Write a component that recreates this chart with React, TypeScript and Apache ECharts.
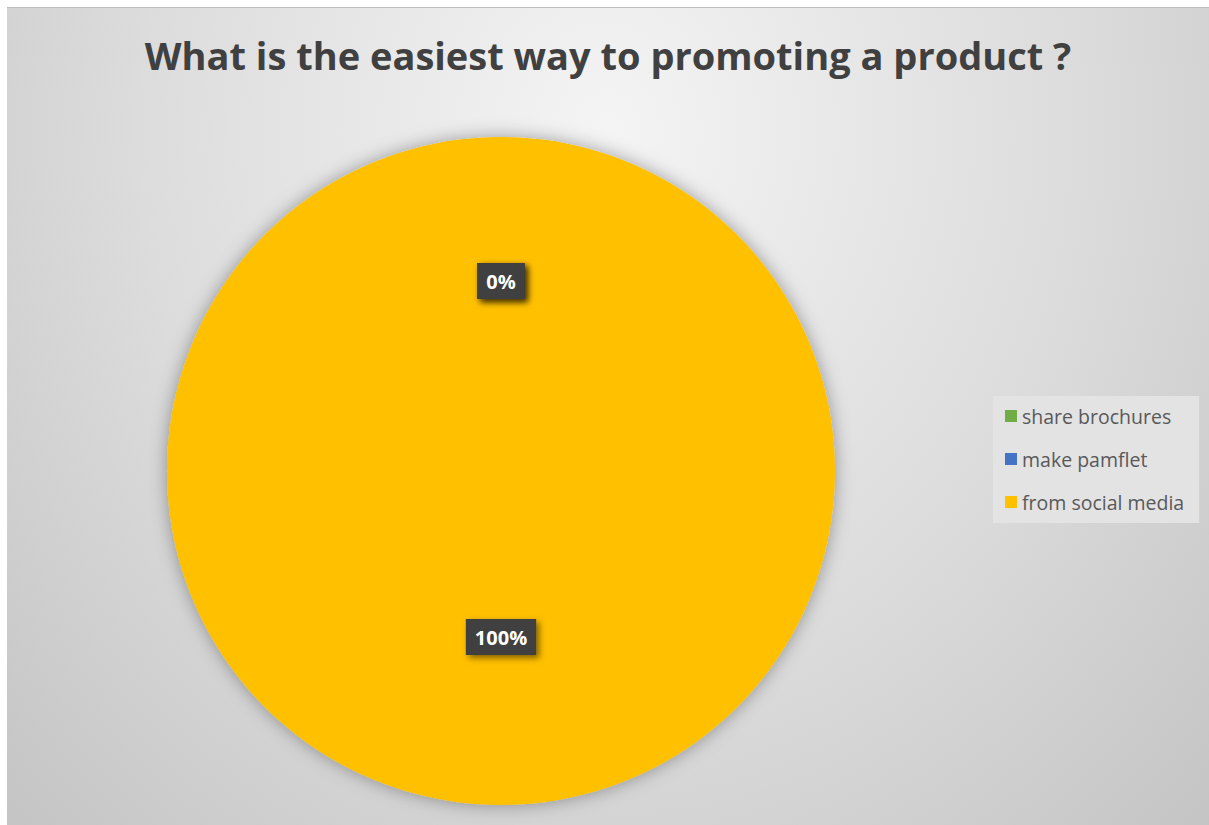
import React, { useEffect, useRef } from "react";
import * as echarts from "echarts";

const categories: string[] = ["share brochures", "make pamflet", "from social media"];
const values: number[] = [0, 0, 100];
const colors: string[] = ["#70AD47", "#4472C4", "#FFC000"];
const titleText = "What is the easiest way to promoting a product ?";

export default function App() {
  const ref = useRef<HTMLDivElement>(null);
  useEffect(() => {
    if (!ref.current) return;
    const chart = echarts.init(ref.current, undefined, { renderer: "svg" });
    const data = categories.map((name, i) => ({
      name,
      value: values[i],
      itemStyle: { color: colors[i] },
    }));
    chart.setOption({
      animation: false,
      backgroundColor: "transparent",
      title: {
        text: titleText,
        left: "center",
        top: 23,
        textStyle: {
          fontFamily: "Open Sans",
          fontWeight: "bold",
          fontSize: 38,
          color: "#404040",
        },
      },
      legend: {
        orient: "vertical",
        left: 986,
        top: 388,
        icon: "rect",
        itemWidth: 12,
        itemHeight: 12,
        itemGap: 23,
        padding: [10, 15, 11, 12],
        backgroundColor: "#e3e3e3",
        data: categories,
        textStyle: {
          fontFamily: "Open Sans",
          fontSize: 19.5,
          lineHeight: 20,
          color: "#595959",
        },
      },
      series: [
        {
          type: "pie",
          center: [494, 463],
          radius: [0, 334],
          startAngle: 90,
          clockwise: true,
          data,
          itemStyle: {
            shadowBlur: 18,
            shadowColor: "rgba(0,0,0,0.35)",
          },
          label: {
            show: true,
            position: "inside",
            formatter: (p: any) => Math.round(p.percent) + "%",
            color: "#ffffff",
            fontFamily: "Open Sans",
            fontWeight: "bold",
            fontSize: 20,
            backgroundColor: "#404040",
            padding: [8, 9, 8, 9],
            shadowColor: "rgba(0,0,0,0.5)",
            shadowBlur: 6,
            shadowOffsetX: 3,
            shadowOffsetY: 3,
          },
          labelLine: { show: false },
          labelLayout: (params: any) =>
            params.dataIndex < 2 ? { dy: -20 } : { dy: -4 },
          emphasis: { disabled: true },
        },
      ],
    });
    return () => chart.dispose();
  }, []);
  return (
    <div
      ref={ref}
      style={{
        position: "absolute",
        left: 7,
        top: 7,
        width: 1202,
        height: 818,
        borderTop: "1px solid #bdbdbd",
        boxSizing: "border-box",
        background:
          "radial-gradient(farthest-corner at 50% 15%, #f4f4f4 0%, #dcdcdc 55%, #c4c4c4 100%)",
      }}
    />
  );
}
